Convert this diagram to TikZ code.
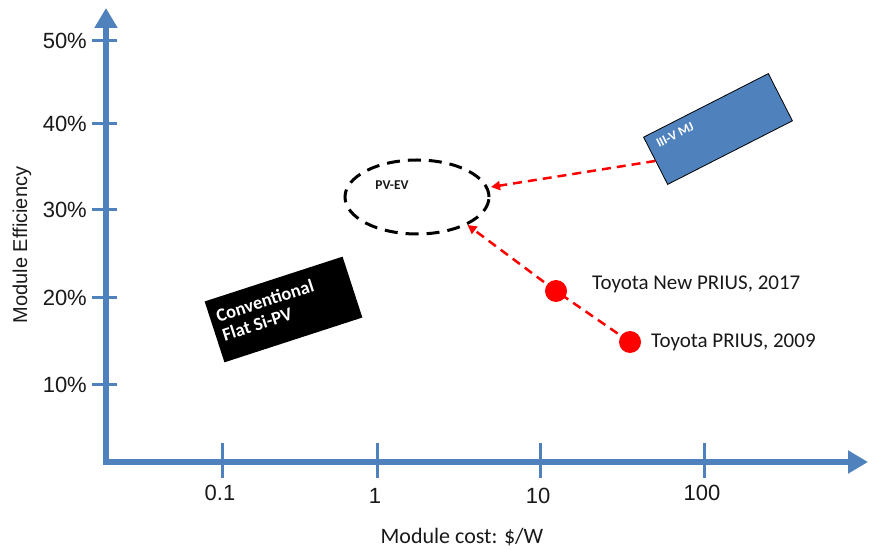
\documentclass[tikz,border=0pt]{standalone}
\usepackage{fontspec}
\setmainfont{Carlito}
\newfontfamily\arial{Liberation Sans}
\usetikzlibrary{arrows.meta,shapes.geometric}
\definecolor{axblue}{RGB}{79,129,189}
\definecolor{boxblue}{RGB}{79,129,189}
\definecolor{txt}{RGB}{25,25,25}
\begin{document}
\begin{tikzpicture}[x=1pt,y=1pt,
  axis/.style={draw=axblue,line width=6pt,line join=miter},
  tick/.style={draw=axblue,line width=3pt},
  ylab/.style={anchor=east,inner sep=0pt,text=txt,font=\arial\fontsize{22}{24}\selectfont},
  xlab/.style={inner sep=0pt,text=txt,font=\arial\fontsize{22}{24}\selectfont},
  toy/.style={anchor=west,inner sep=0pt,text=txt,font=\fontsize{21}{24}\selectfont},
  dot/.style={circle,fill=red,draw=none,minimum size=22pt,inner sep=0pt},
  reddash/.style={draw=red,line width=2.5pt,dash pattern=on 9pt off 6pt},
  redarrow/.style={reddash,-{Triangle[width=9pt,length=9pt]}},
]
\useasboundingbox (0,0) rectangle (880,549);
\fill[white] (0,0) rectangle (880,549);

% axes
\coordinate (ytip) at (106,541);
\coordinate (orig) at (106,87);
\coordinate (xtip) at (868,87);
\draw[axis,{Triangle[width=22pt,length=20pt]}-{Triangle[width=22pt,length=20pt]}] (ytip) -- (orig) -- (xtip);

% y ticks
\foreach \yy/\lab/\nm in {508/50/a,425/40/b,339/30/c,251/20/d,164/10/e}{
  \coordinate (yt\nm l) at (92,\yy);
  \coordinate (yt\nm r) at (117,\yy);
  \draw[tick] (yt\nm l) -- (yt\nm r);
  \node[ylab] (yl\nm) at (87,\yy) {\lab\%};
}
% x ticks
\foreach \xx/\lab/\nm/\ly in {222/0.1/a/56,377/1/b/53,540/10/c/53,704/100/d/56}{
  \coordinate (xt\nm b) at (\xx,71);
  \coordinate (xt\nm t) at (\xx,106);
  \draw[tick] (xt\nm b) -- (xt\nm t);
  \node[xlab] (xl\nm) at (\xx-2,\ly) {\lab};
}

\node[inner sep=0pt,text=txt,font=\fontsize{22}{24}\selectfont] (xtitle) at (462,12) {Module cost: \$/W};
\node[inner sep=0pt,text=txt,rotate=90,font=\arial\fontsize{20}{22}\selectfont] (ytitle) at (22,304) {Module Efficiency};

% conventional box
\node[fill=black,minimum width=145pt,minimum height=64pt,inner sep=0pt,rotate=18] (conv) at (283.5,239.5) {};
\node[text=white,align=left,inner sep=0pt,rotate=18,font=\bfseries\fontsize{18.5}{20}\selectfont] (convt) at (268,239) {Conventional\\Flat Si-PV};

% III-V box
\node[fill=boxblue,draw=black,line width=0.8pt,minimum width=140pt,minimum height=53pt,inner sep=0pt,rotate=27] (mj) at (718,420) {};
\node[text=white,inner sep=0pt,rotate=27,font=\bfseries\fontsize{13}{14}\selectfont] (mjt) at (675,414) {III-V MJ};

% PV-EV ellipse
\node[ellipse,draw=black,line width=3pt,dash pattern=on 13pt off 8pt,minimum width=144pt,minimum height=74pt,inner sep=0pt] (ell) at (417,352) {};
\node[inner sep=0pt,text=txt,font=\bfseries\fontsize{13.5}{15}\selectfont] (pvev) at (392,364) {PV-EV};

% Toyota points
\node[dot] (d17) at (556,258) {};
\node[dot] (d09) at (630,207) {};
\node[toy] (l17) at (592,265) {Toyota New PRIUS, 2017};
\node[toy] (l09) at (651,207) {Toyota PRIUS, 2009};

\draw[reddash] (d09.center) -- (d17.center);
\draw[redarrow] (d17.center) -- (ell.-29);
\draw[redarrow] (mj.west) -- ([xshift=3pt]ell.8);
\end{tikzpicture}
\end{document}
